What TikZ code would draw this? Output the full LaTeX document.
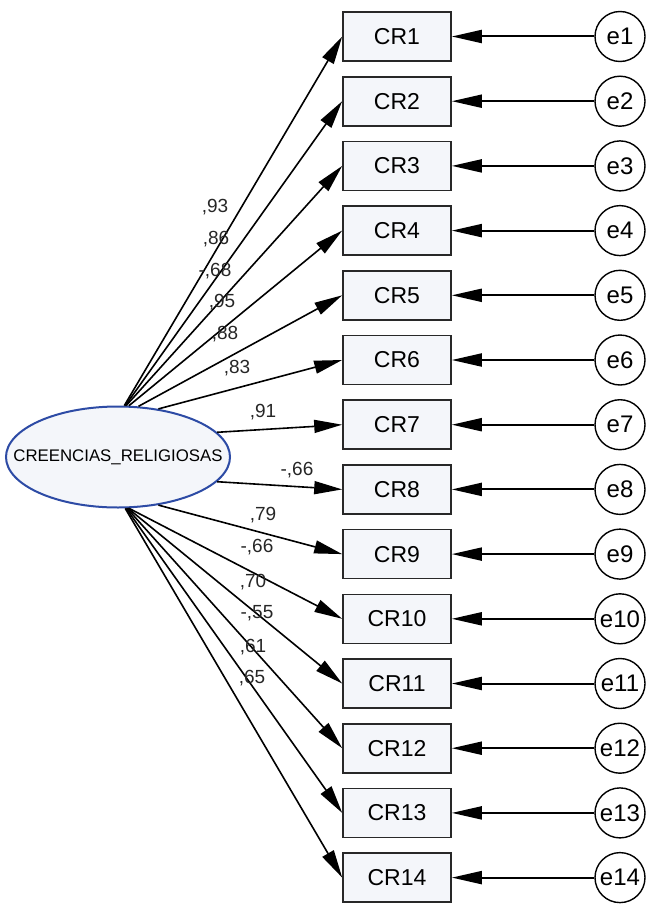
\documentclass[tikz,border=0pt]{standalone}
\usepackage{fontspec}
\setmainfont{Liberation Sans}
\usetikzlibrary{arrows.meta,shapes.geometric}
\definecolor{boxfill}{RGB}{244,246,250}
\definecolor{ellblue}{RGB}{45,75,165}
\definecolor{boxline}{RGB}{40,40,40}
\begin{document}
\begin{tikzpicture}[x=1pt,y=-1pt,
  obsbox/.style={draw=boxline,line width=1.6pt,fill=boxfill,minimum width=108pt,minimum height=49pt,inner sep=0pt,font=\fontsize{23}{26}\selectfont},
  errc/.style={circle,draw=black,line width=1.4pt,fill=white,minimum size=50pt,inner sep=0pt,font=\fontsize{24}{26}\selectfont},
  latent/.style={ellipse,draw=ellblue,line width=2pt,fill=boxfill,minimum width=224pt,minimum height=101pt,inner sep=0pt,font=\fontsize{16.8}{18}\selectfont},
  load/.style={line width=1.6pt,-{Triangle[length=28pt,width=13pt]}},
  errarr/.style={line width=2pt,-{Triangle[length=30pt,width=13pt]}},
  coef/.style={font=\fontsize{19}{21}\selectfont,inner sep=0pt,text=black!85}]
\useasboundingbox (0,0) rectangle (651,907);
\node[latent] (lat) at (118,457) {\makebox[0pt]{CREENCIAS\_RELIGIOSAS}};
\foreach \i/\ang/\lab/\lx/\ly in {
  1/83/{,93}/215/207,
  2/82/{,86}/216/239,
  3/81/{-,68}/215/271,
  4/78/{,95}/222/302,
  5/68/{,88}/225/334,
  6/50/{,83}/237/368,
  7/14/{,91}/263/412,
  8/-14/{-,66}/297/470,
  9/-50/{,79}/263/515,
  10/-78/{-,66}/257/547,
  11/-79/{,70}/253/582,
  12/-80/{-,55}/257/613,
  13/-81/{,61}/253/647,
  14/-82/{,65}/252/678}{
  \pgfmathsetmacro{\yy}{36.5+64.7*(\i-1)}
  \node[obsbox] (CR\i) at (397,\yy) {CR\i};
  \node[errc] (e\i) at (620,\yy) {e\i};
  \draw[errarr] (e\i) -- (CR\i.east);
  \draw[load] (lat.\ang) -- (CR\i.west);
  \node[coef] (c\i) at (\lx,\ly) {\lab};
}
\end{tikzpicture}
\end{document}
